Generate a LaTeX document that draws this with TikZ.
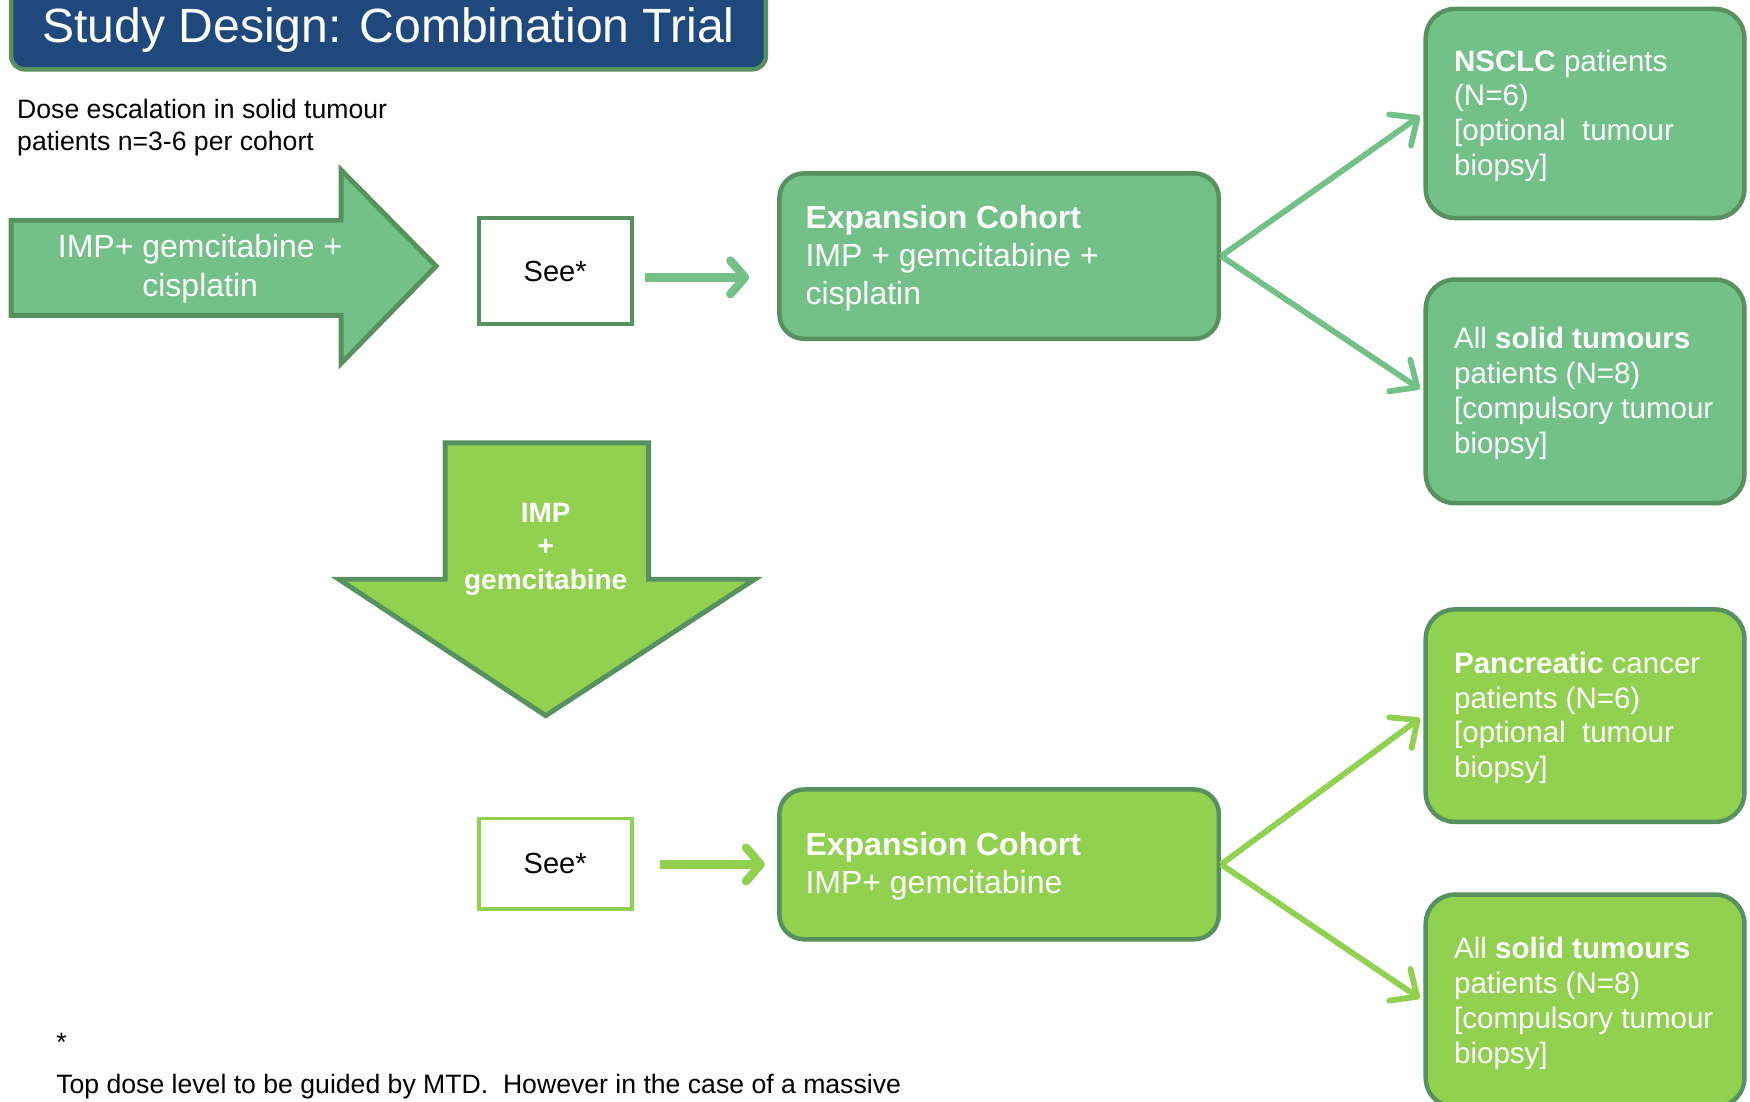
\documentclass[tikz,border=0pt]{standalone}
\usepackage{fontspec}
\setmainfont{Liberation Sans}
\usetikzlibrary{arrows.meta,calc}
\definecolor{dkgreen}{HTML}{57915F}
\definecolor{mdgreen}{HTML}{73C189}
\definecolor{ltgreen}{HTML}{92D050}
\definecolor{tblue}{HTML}{1F497D}
\begin{document}
\begin{tikzpicture}[x=0.5pt,y=-0.5pt,
  rbox/.style={draw=dkgreen, line width=2pt, rounded corners=13pt, minimum width=142.5pt, inner sep=0pt},
  ebox/.style={draw=dkgreen, line width=2pt, rounded corners=11pt, minimum width=196.5pt, inner sep=0pt},
  rtext/.style={text=white, align=left, inner sep=0pt, anchor=west, font=\fontsize{13.2}{15.6}\selectfont},
  etext/.style={text=white, align=left, inner sep=0pt, anchor=west, font=\fontsize{14.3}{17}\selectfont},
  seebox/.style={line width=1.75pt, fill=white, minimum width=68.5pt, inner sep=0pt, font=\fontsize{13}{15}\selectfont},
  blockarrow/.style={draw=dkgreen, line width=2.2pt, line join=miter},
  sarrow/.style={line width=3.8pt, -{Straight Barb[length=6.5pt,width=15pt,round]}},
  carrow/.style={line width=2.6pt, -{Straight Barb[length=9.5pt,width=17pt,round]}, shorten >=2pt},
  plain/.style={inner sep=0pt, anchor=base west, font=\fontsize{11.9}{14.5}\selectfont}
]
\useasboundingbox (0,0) rectangle (1565,985);

% title
\node[draw=dkgreen, line width=2pt, fill=tblue, rounded corners=6pt, minimum width=337.5pt, minimum height=37pt, inner sep=0pt] (titlebox) at (347.5,25) {};
\node[text=white, inner sep=0pt, anchor=base, font=\fontsize{21.5}{26}\selectfont] (title) at (347.5,38) {Study Design: Combination Trial};

% dose escalation text (base = last line)
\node[plain, align=left] (dose) at (15,135) {Dose escalation in solid tumour\\patients n=3-6 per cohort};

% right block arrow
\draw[blockarrow, fill=mdgreen] (10,197) -- (305,197) -- (305,152) -- (390,238) -- (305,325) -- (305,282) -- (10,282) -- cycle;
\node[text=white, align=center, inner sep=0pt, anchor=base, font=\fontsize{14.3}{17.5}\selectfont] (armtxt) at (179,265) {IMP+ gemcitabine +\\cisplatin};

% down block arrow
\draw[blockarrow, fill=ltgreen] (398,396) -- (580,396) -- (580,518) -- (675,518) -- (488,640) -- (303,518) -- (398,518) -- cycle;
\node[text=white, align=center, inner sep=0pt, anchor=base, font=\bfseries\fontsize{12.5}{15}\selectfont] (downtxt) at (488,527) {IMP\\+\\gemcitabine};

% see boxes
\node[seebox, draw=dkgreen, minimum height=47.5pt] (see1) at (496.5,242.5) {See*};
\node[seebox, draw=ltgreen, minimum height=40.5pt] (see2) at (496.5,772.5) {See*};

% expansion cohorts
\node[ebox, fill=mdgreen, minimum height=74pt] (exp1) at (893.5,229) {};
\node[etext] (exp1t) at ($(exp1.west)+(25,2)$) {\textbf{Expansion Cohort}\\IMP + gemcitabine +\\cisplatin};
\node[ebox, fill=ltgreen, minimum height=67pt] (exp2) at (893.5,773) {};
\node[etext] (exp2t) at ($(exp2.west)+(25,2)$) {\textbf{Expansion Cohort}\\IMP+ gemcitabine};

% right boxes
\node[rbox, fill=mdgreen, minimum height=93.5pt] (nsclc) at (1417.5,101.5) {};
\node[rtext] (nsclct) at ($(nsclc.west)+(27,2)$) {\textbf{NSCLC} patients\\(N=6)\\{[}optional~ tumour\\biopsy{]}};
\node[rbox, fill=mdgreen, minimum height=100pt] (solid1) at (1417.5,350) {};
\node[rtext] (solid1t) at ($(solid1.west)+(27,2)$) {All \textbf{solid tumours}\\patients (N=8)\\{[}compulsory tumour\\biopsy{]}};
\node[rbox, fill=ltgreen, minimum height=95pt] (panc) at (1417.5,640) {};
\node[rtext] (panct) at ($(panc.west)+(27,2)$) {\textbf{Pancreatic} cancer\\patients (N=6)\\{[}optional~ tumour\\biopsy{]}};
\node[rbox, fill=ltgreen, minimum height=95pt] (solid2) at (1417.5,895) {};
\node[rtext] (solid2t) at ($(solid2.west)+(27,2)$) {All \textbf{solid tumours}\\patients (N=8)\\{[}compulsory tumour\\biopsy{]}};

% small arrows
\coordinate (a1s) at (577,248);
\coordinate (a1e) at (670,248);
\coordinate (a2s) at (590,773);
\coordinate (a2e) at (684,773);
\draw[sarrow, mdgreen] (a1s) -- (a1e);
\draw[sarrow, ltgreen] (a2s) -- (a2e);

% connectors
\draw[carrow, mdgreen] (exp1.east) -- (nsclc.west);
\draw[carrow, mdgreen] (exp1.east) -- (solid1.west);
\draw[carrow, ltgreen] (exp2.east) -- (panc.west);
\draw[carrow, ltgreen] (exp2.east) -- (solid2.west);

% footnote
\node[plain] (star) at (50,940) {*};
\node[plain] (foot) at (50,978) {Top dose level to be guided by MTD.~ However in the case of a massive};
\end{tikzpicture}
\end{document}
